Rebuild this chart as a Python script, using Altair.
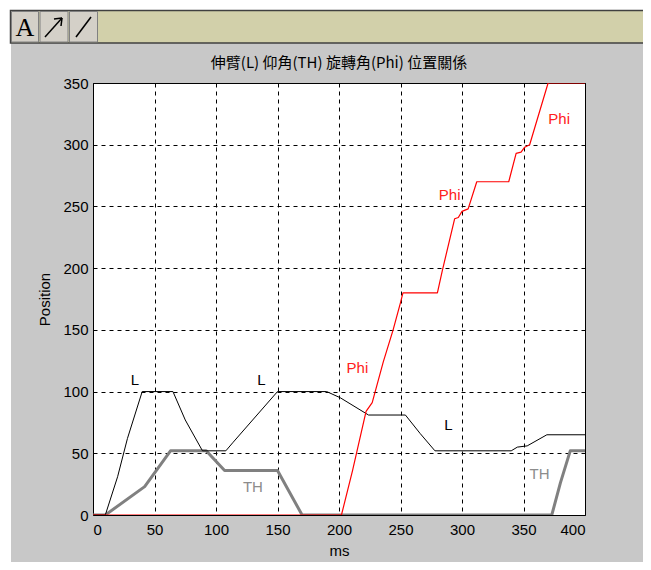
import altair as alt
import pandas as pd

# ---------------- data ----------------
L_ms = [0, 10, 20, 28, 40, 65, 75, 89, 108, 114, 150, 190, 201, 224, 254, 266, 278, 340, 345, 353, 369, 400]
L_val = [0, 0, 31, 62, 100, 100, 77, 52, 52, 59, 100, 100, 95, 81, 81, 66, 52, 52, 55, 56, 65, 65]

TH_ms = [0, 10, 42, 63, 92, 107, 150, 170, 373, 380, 388, 400]
TH_val = [0, 0, 23, 52, 52, 36, 36, 0, 0, 26, 52, 52]

Phi_ms = [0, 202, 211, 222, 227, 236, 244, 250, 252, 280, 284, 294, 297, 300, 305, 312, 338, 344, 348, 351, 355, 370, 400]
Phi_val = [0, 0, 36, 84, 91, 124, 150, 172, 180, 180, 198, 240, 241, 246, 248, 270, 270, 293, 294, 298, 300, 350, 350]

label_text = ["L", "L", "L", "TH", "TH", "Phi", "Phi", "Phi"]
label_ms = [34, 137, 289, 130, 363, 215, 290, 379]
label_val = [109, 109, 73, 23, 33, 119, 259, 321]
label_series = ["L", "L", "L", "TH", "TH", "Phi", "Phi", "Phi"]

x_ticks = [0, 50, 100, 150, 200, 250, 300, 350, 400]
y_ticks = [0, 50, 100, 150, 200, 250, 300, 350]

title_text = "伸臂(L) 仰角(TH) 旋轉角(Phi) 位置關係"

series_names = ["L", "TH", "Phi"]
series_colors = ["#000000", "#808080", "#ff0000"]
label_colors = ["#000000", "#8c8c8c", "#ff2020"]

# ---------------- layout ----------------
W, H = 492, 432
PAD_L, PAD_T = 85, 75
OX, OY = 8 + PAD_L, 8 + PAD_T  # page position of plot origin

FONT = "Liberation Sans, Arial, Helvetica, sans-serif"

x_scale = alt.Scale(domain=[0, 400], nice=False, zero=False)
y_scale = alt.Scale(domain=[0, 350], nice=False, zero=False)

common_axis = dict(grid=True, gridDash=[4, 4], gridColor="black", gridOpacity=1, gridWidth=1,
                   domain=False, ticks=False, labelFont=FONT, labelFontSize=15, labelColor="black",
                   titleFont=FONT, titleFontSize=15, titleFontWeight="normal", titleColor="black")
x_axis = alt.Axis(values=x_ticks, title="ms", labelPadding=7, titlePadding=6, **common_axis)
y_axis = alt.Axis(values=y_ticks, title="Position", labelPadding=5, titlePadding=10, **common_axis)


def df_series(name, ms, val):
    return pd.DataFrame({"ms": ms, "value": val, "series": name, "idx": list(range(len(ms)))})


def line_layer(name, ms, val, color, width):
    return alt.Chart(df_series(name, ms, val)).mark_line(
        color=color, strokeWidth=width, clip=True, strokeJoin="round"
    ).encode(
        x=alt.X("ms:Q", scale=x_scale, axis=x_axis),
        y=alt.Y("value:Q", scale=y_scale, axis=y_axis),
        order="idx:Q",
    )


one = pd.DataFrame({"a": [0]})


def px_rect(x1, y1, x2, y2, fill, stroke=None, sw=1):
    kw = dict(fill=fill)
    if stroke is not None:
        kw.update(stroke=stroke, strokeWidth=sw)
    return alt.Chart(one).mark_rect(**kw).encode(
        x=alt.value(x1 - OX), x2=alt.value(x2 - OX), y=alt.value(y1 - OY), y2=alt.value(y2 - OY)
    )


def px_rule(x1, y1, x2, y2, color="black", sw=1.5):
    return alt.Chart(one).mark_rule(color=color, strokeWidth=sw).encode(
        x=alt.value(x1 - OX), x2=alt.value(x2 - OX), y=alt.value(y1 - OY), y2=alt.value(y2 - OY)
    )


def px_text(x, y, txt, size, font, color="black"):
    return alt.Chart(one).mark_text(text=txt, fontSize=size, font=font, color=color,
                                    align="center", baseline="middle").encode(
        x=alt.value(x - OX), y=alt.value(y - OY)
    )


# white page margin strips (left & top), toolbar and chart title
deco = [
    px_rect(8, 8, 11, 570, "white"),
    px_rect(8, 8, 651, 10, "white"),
    px_rect(10.5, 10.5, 648, 43, "#d2d0aa", "#404040", 1.5),
    px_rect(11.5, 11.5, 38.5, 42, "#d4d0c8", "#808080", 1),
    px_rect(40, 11.5, 68, 42, "#d4d0c8", "#808080", 1),
    px_rect(69.5, 11.5, 97.5, 42, "#d4d0c8", "#808080", 1),
    px_text(25, 28, "A", 26, "Liberation Serif, Times New Roman, serif"),
    px_rule(45, 37, 62, 18),
    px_rule(62, 18, 54, 19),
    px_rule(62, 18, 61, 26),
    px_rule(76, 37, 91, 17),
    px_text(OX + W / 2, 63, title_text, 15, "Noto Sans CJK TC, Noto Sans CJK SC, sans-serif"),
]

lines = [
    line_layer("TH", TH_ms, TH_val, series_colors[1], 3),
    line_layer("L", L_ms, L_val, series_colors[0], 1),
    line_layer("Phi", Phi_ms, Phi_val, series_colors[2], 1.2),
]

labels_df = pd.DataFrame({"ms": label_ms, "value": label_val, "text": label_text, "series": label_series})
labels = alt.Chart(labels_df).mark_text(fontSize=15, font=FONT, align="center", baseline="middle").encode(
    x=alt.X("ms:Q", scale=x_scale, axis=x_axis),
    y=alt.Y("value:Q", scale=y_scale, axis=y_axis),
    text="text:N",
    color=alt.Color("series:N", scale=alt.Scale(domain=series_names, range=label_colors), legend=None),
)

chart = alt.layer(*deco, *lines, labels).properties(
    width=W, height=H,
    padding={"left": PAD_L, "top": PAD_T, "right": 635 - PAD_L - W, "bottom": 554 - PAD_T - H},
    autosize=alt.AutoSizeParams(type="none"),
    background="#c8c8c8",
).configure_view(fill="white", stroke="black", strokeWidth=1)

chart.save("out.html", embed_options={"renderer": "svg", "actions": False})
